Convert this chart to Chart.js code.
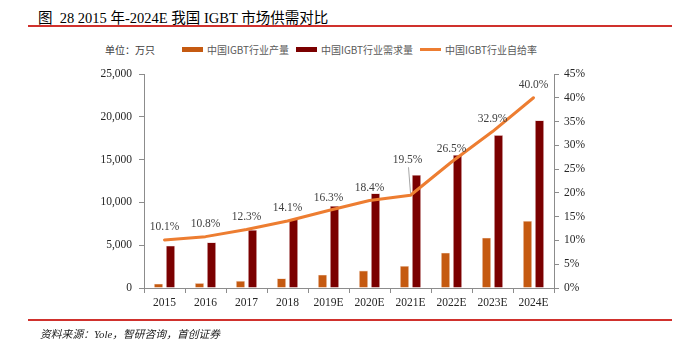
<!DOCTYPE html>
<html>
<head>
<meta charset="utf-8">
<script src="https://cdn.jsdelivr.net/npm/chart.js@4/dist/chart.umd.min.js"></script>
<style>
  html, body { margin: 0; padding: 0; background: #fff; }
  #wrap { position: relative; width: 681px; height: 351px; overflow: hidden; background: #fff; }
  #chart { position: absolute; left: 0; top: 0; }
  .title { position: absolute; left: 38px; top: 6px; font-family: "Liberation Serif", "Noto Sans CJK SC", serif; font-size: 14.5px; color: #000; white-space: nowrap; }
  .rule { position: absolute; left: 28px; width: 644px; height: 2px; background: #D0312D; }
  .source { position: absolute; left: 40px; top: 325px; font-family: "Liberation Serif", "Noto Sans CJK SC", serif; font-style: italic; font-size: 10.8px; color: #222; white-space: nowrap; }
  .unit { position: absolute; left: 105px; top: 42px; font-family: "Noto Sans CJK SC", sans-serif; font-size: 10px; color: #404040; white-space: nowrap; }
  .legend { position: absolute; top: 42px; font-family: "Noto Sans CJK SC", sans-serif; font-size: 10px; color: #595959; white-space: nowrap; display: flex; align-items: center; height: 14px; }
  .sw { display: inline-block; width: 21px; height: 5px; margin-right: 4px; }
  .swl { display: inline-block; width: 21px; height: 3px; margin-right: 4px; }
</style>
</head>
<body>
<div id="wrap">
  <div class="title">图&nbsp; 28 2015 年-2024E 我国 IGBT 市场供需对比</div>
  <div class="rule" style="top:25px"></div>
  <div class="unit">单位：万只</div>
  <div class="legend" style="left:182px"><span class="sw" style="background:#C55A11"></span>中国IGBT行业产量</div>
  <div class="legend" style="left:296px"><span class="sw" style="background:#7B0000"></span>中国IGBT行业需求量</div>
  <div class="legend" style="left:420px"><span class="swl" style="background:#ED7D31"></span>中国IGBT行业自给率</div>
  <canvas id="chart" width="681" height="351"></canvas>
  <div class="rule" style="top:319px"></div>
  <div class="source">资料来源：Yole，智研咨询，首创证券</div>
</div>
<script>
const categories = ['2015', '2016', '2017', '2018', '2019E', '2020E', '2021E', '2022E', '2023E', '2024E'];
const production = [500, 577, 833, 1130, 1560, 2040, 2580, 4120, 5880, 7840];
const demand = [4950, 5340, 6780, 8020, 9580, 11060, 13200, 15540, 17870, 19590];
const selfSufficiency = [10.1, 10.8, 12.3, 14.1, 16.3, 18.4, 19.5, 26.5, 32.9, 40.0];
const leftTicks = [0, 5000, 10000, 15000, 20000, 25000];
const rightTicks = [0, 5, 10, 15, 20, 25, 30, 35, 40, 45];

const serif = '"Liberation Serif", "Times New Roman", serif';

const labelPlugin = {
  id: 'pctLabels',
  afterDatasetsDraw(chart) {
    const meta = chart.getDatasetMeta(2);
    const ctx = chart.ctx;
    ctx.save();
    ctx.font = '11.5px ' + serif;
    ctx.fillStyle = '#404040';
    ctx.textAlign = 'center';
    ctx.textBaseline = 'middle';
    meta.data.forEach((pt, i) => {
      const txt = selfSufficiency[i].toFixed(1) + '%';
      if (i === 6) {
        ctx.strokeStyle = '#A6A6A6';
        ctx.lineWidth = 1;
        ctx.beginPath();
        ctx.moveTo(pt.x - 2, pt.y - 28);
        ctx.lineTo(pt.x, pt.y - 2);
        ctx.stroke();
        ctx.fillText(txt, pt.x - 3, pt.y - 35);
      } else {
        ctx.fillText(txt, pt.x, pt.y - 13);
      }
    });
    ctx.restore();
  }
};

new Chart(document.getElementById('chart'), {
  data: {
    labels: categories,
    datasets: [
      { type: 'bar', label: '中国IGBT行业产量', data: production, backgroundColor: '#C55A11', borderColor: '#F2D8C8', borderWidth: 0.6, yAxisID: 'y', order: 2, categoryPercentage: 0.585, barPercentage: 0.75 },
      { type: 'bar', label: '中国IGBT行业需求量', data: demand, backgroundColor: '#7B0000', borderColor: '#E8CCCC', borderWidth: 0.6, yAxisID: 'y', order: 2, categoryPercentage: 0.585, barPercentage: 0.75 },
      { type: 'line', label: '中国IGBT行业自给率', data: selfSufficiency, borderColor: '#ED7D31', borderWidth: 3, pointRadius: 0, tension: 0, borderJoinStyle: 'round', borderCapStyle: 'round', yAxisID: 'y1', order: 0, fill: false }
    ]
  },
  options: {
    responsive: false,
    animation: false,
    devicePixelRatio: 1,
    layout: { padding: { left: 84, right: 77, top: 74, bottom: 33 } },
    plugins: { legend: { display: false }, tooltip: { enabled: false }, title: { display: false } },
    scales: {
      x: {
        grid: { display: true, drawOnChartArea: false, drawTicks: true, tickLength: 5, color: '#8C8C8C', offset: true },
        border: { display: true, color: '#8C8C8C', width: 1 },
        ticks: { font: { family: serif, size: 11.5 }, color: '#262626', padding: 3, maxRotation: 0, autoSkip: false },
        afterFit(s) { s.height = 30; }
      },
      y: {
        position: 'left',
        min: 0, max: 25000,
        afterBuildTicks(s) { s.ticks = leftTicks.map(v => ({ value: v })); },
        grid: { display: true, drawOnChartArea: false, drawTicks: true, tickLength: 5, color: '#8C8C8C' },
        border: { display: true, color: '#8C8C8C', width: 1 },
        ticks: { font: { family: serif, size: 11.5 }, color: '#262626', padding: 7, callback: v => v.toLocaleString('en-US') },
        afterFit(s) { s.width = 60; }
      },
      y1: {
        position: 'right',
        min: 0, max: 45,
        afterBuildTicks(s) { s.ticks = rightTicks.map(v => ({ value: v })); },
        grid: { display: true, drawOnChartArea: false, drawTicks: true, tickLength: 5, color: '#8C8C8C' },
        border: { display: true, color: '#8C8C8C', width: 1 },
        ticks: { font: { family: serif, size: 11.5 }, color: '#262626', padding: 5, callback: v => v + '%' },
        afterFit(s) { s.width = 50; }
      }
    }
  },
  plugins: [labelPlugin]
});
</script>
</body>
</html>
